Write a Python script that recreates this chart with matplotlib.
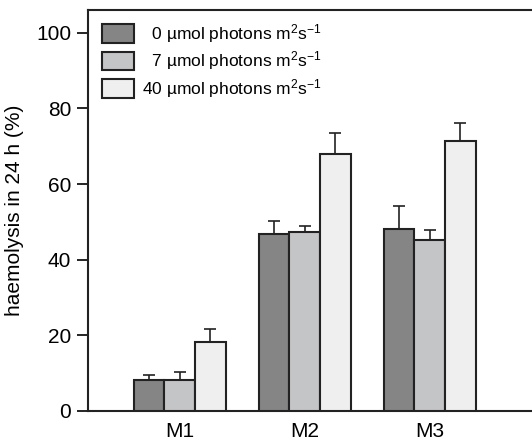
import numpy as np
import matplotlib
matplotlib.use('Agg')
import matplotlib.pyplot as plt

plt.rcParams['font.family'] = ['Liberation Sans', 'DejaVu Sans']
plt.rcParams['mathtext.fontset'] = 'custom'
plt.rcParams['mathtext.rm'] = 'Liberation Sans'

# data
groups = ['M1', 'M2', 'M3']
light = ['0', '7', '40']
dark_vals = [8.2, 46.8, 48.1]
mid_vals = [8.2, 47.4, 45.2]
light_vals = [18.2, 67.9, 71.5]
dark_err = [1.2, 3.5, 6.2]
mid_err = [2.2, 1.5, 2.7]
light_err = [3.5, 5.6, 4.6]

colors = ['#858585', '#c4c5c7', '#efefef']
series = [dark_vals, mid_vals, light_vals]
errs = [dark_err, mid_err, light_err]

fig = plt.figure(figsize=(5.32, 4.42), dpi=100)
ax = fig.add_axes([88/532, 1-411/442, 1-88/532, 401/442])

x = np.arange(len(groups))
w = 0.245
for i in range(3):
    lab = ('  ' if len(light[i]) == 1 else '') + light[i] + ' \u00b5mol photons m$\\mathregular{^2}$s$\\mathregular{^{-1}}$'
    ax.bar(x + (i-1)*w, series[i], w, color=colors[i], edgecolor='#222222',
           linewidth=1.5, label=lab, zorder=3)
    ax.errorbar(x + (i-1)*w, series[i], yerr=[np.zeros(3), errs[i]], fmt='none',
                ecolor='#222222', elinewidth=1.2, capsize=4, capthick=1.2, zorder=2)

ax.set_xlim(-0.734, 2.818)
ax.set_ylim(0, 106)
ax.set_yticks([0, 20, 40, 60, 80, 100])
ax.set_xticks(x)
ax.set_xticklabels(groups)
ax.tick_params(axis='x', length=0, pad=8, labelsize=15)
ax.tick_params(axis='y', length=8, width=1.2, pad=4, labelsize=15, direction='out')
ax.spines['right'].set_visible(False)
for s in ['left', 'top', 'bottom']:
    ax.spines[s].set_linewidth(1.5)
    ax.spines[s].set_color('#222222')
ax.set_ylabel('haemolysis in 24 h (%)', fontsize=15, labelpad=9)

leg = ax.legend(loc='upper left', bbox_to_anchor=(13.7/444, 1 - 12/401), frameon=False,
                fontsize=12.5, handlelength=1.85, handleheight=1.25, labelspacing=0.27,
                handletextpad=0.5, borderpad=0, borderaxespad=0)
for p in leg.get_patches():
    p.set_linewidth(1.5)

fig.savefig('out.png', dpi=100)
